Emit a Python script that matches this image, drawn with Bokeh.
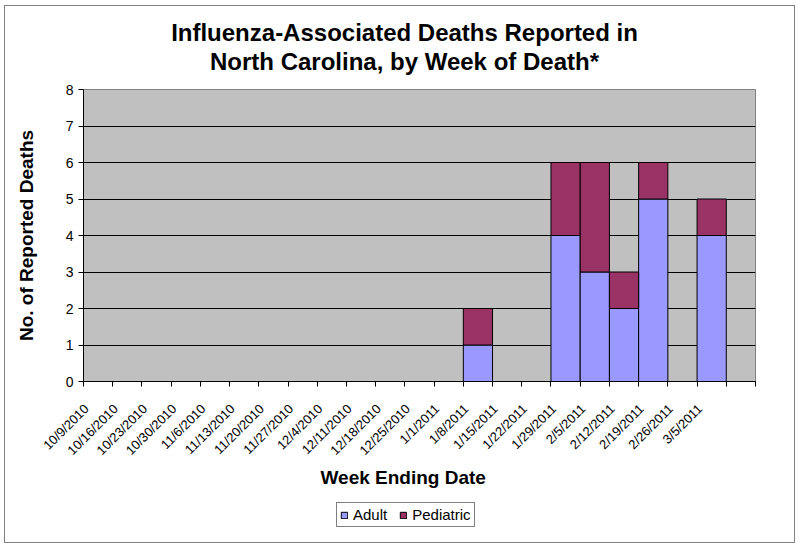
from bokeh.plotting import figure
from bokeh.models import Range1d, FixedTicker, Title, Legend, LegendItem, Label
from bokeh.layouts import column
from bokeh.embed import file_html
from bokeh.resources import INLINE
import math

title_lines = ["Influenza-Associated Deaths Reported in",
               "North Carolina, by Week of Death*"]
weeks = ["10/9/2010", "10/16/2010", "10/23/2010", "10/30/2010", "11/6/2010",
         "11/13/2010", "11/20/2010", "11/27/2010", "12/4/2010", "12/11/2010",
         "12/18/2010", "12/25/2010", "1/1/2011", "1/8/2011", "1/15/2011",
         "1/22/2011", "1/29/2011", "2/5/2011", "2/12/2011", "2/19/2011",
         "2/26/2011", "3/5/2011", ""]
adult = [0, 0, 0, 0, 0, 0, 0, 0, 0, 0, 0, 0, 0, 1, 0, 0, 4, 3, 2, 5, 0, 4, 0]
pediatric = [0, 0, 0, 0, 0, 0, 0, 0, 0, 0, 0, 0, 0, 1, 0, 0, 2, 3, 1, 1, 0, 1, 0]
y_ticks = [0, 1, 2, 3, 4, 5, 6, 7, 8]

FONT = "Liberation Sans"
ADULT_C = "#9999FF"
PED_C = "#993366"
n = len(weeks)
xs = [i + 0.5 for i in range(n)]
tops_adult = adult
bottoms_ped = adult
tops_ped = [a + b for a, b in zip(adult, pediatric)]

# ---- title strip ----
tf = figure(width=789, height=75, output_backend="svg", toolbar_location=None,
            x_range=Range1d(83, 755), y_range=Range1d(81, 6),
            x_axis_location=None, y_axis_location=None, min_border=0)
tf.outline_line_color = None
tf.grid.visible = False
tf.background_fill_color = "white"
tf.border_fill_color = "white"
for txt, yb in zip(title_lines, [32, 61]):
    tf.add_layout(Label(x=404, y=yb, text=txt, text_align="center",
                        text_baseline="alphabetic", text_font=FONT,
                        text_font_size="24px", text_font_style="bold",
                        text_color="black"))

# ---- main chart ----
p = figure(frame_width=672, frame_height=292, output_backend="svg", toolbar_location=None,
           x_range=Range1d(0, n), y_range=Range1d(0, 8),
           min_border_left=78, min_border_right=39, min_border_top=8,
           min_border_bottom=116)

p.background_fill_color = "#C0C0C0"
p.border_fill_color = "white"
p.outline_line_color = "#808080"

p.vbar(x=xs, width=1.0, bottom=0, top=tops_adult, fill_color=ADULT_C,
       line_color="black", line_width=1)
p.vbar(x=xs, width=1.0, bottom=bottoms_ped, top=tops_ped, fill_color=PED_C,
       line_color="black", line_width=1)

p.xgrid.visible = False
p.ygrid.grid_line_color = "black"
p.ygrid.grid_line_width = 1
p.ygrid.ticker = FixedTicker(ticks=y_ticks)

p.yaxis.ticker = FixedTicker(ticks=y_ticks)
p.yaxis.axis_line_color = "black"
p.yaxis.major_tick_line_color = "black"
p.yaxis.major_tick_out = 5
p.yaxis.major_tick_in = 0
p.yaxis.minor_tick_line_color = None
p.yaxis.major_label_text_font = FONT
p.yaxis.major_label_text_font_size = "14px"
p.yaxis.major_label_text_color = "black"
p.yaxis.major_label_standoff = 5
p.yaxis.axis_label = "No. of Reported Deaths"
p.yaxis.axis_label_text_font = FONT
p.yaxis.axis_label_text_font_size = "19px"
p.yaxis.axis_label_text_font_style = "bold"
p.yaxis.axis_label_text_color = "black"
p.yaxis.axis_label_standoff = 26

label_pos = [i + 0.1 for i in range(n - 1)]
p.xaxis.ticker = FixedTicker(ticks=label_pos, minor_ticks=list(range(n + 1)))
p.xaxis.major_label_overrides = {x: w for x, w in zip(label_pos, weeks)}
p.xaxis.major_label_orientation = math.pi / 4
p.xaxis.major_label_text_font = FONT
p.xaxis.major_label_text_font_size = "13px"
p.xaxis.major_label_text_color = "black"
p.xaxis.major_label_standoff = 19
p.xaxis.major_tick_line_color = None
p.xaxis.minor_tick_line_color = "black"
p.xaxis.minor_tick_out = 5
p.xaxis.minor_tick_in = 0
p.xaxis.axis_line_color = "black"

xt = Title(text="Week Ending Date", align="left", offset=237,
           text_font=FONT, text_font_size="19px", text_font_style="bold",
           text_color="black", standoff=-3)
p.add_layout(xt, "below")

# ---- legend strip ----
lf = figure(width=789, height=45, output_backend="svg", toolbar_location=None,
            x_range=Range1d(0, n), y_range=Range1d(0, 8),
            x_axis_location=None, y_axis_location=None,
            min_border=0)
lf.outline_line_color = None
lf.grid.visible = False
lf.background_fill_color = "white"
lf.border_fill_color = "white"
ka = lf.vbar(x=xs, width=1, top=tops_adult, fill_color=ADULT_C, line_color="black")
kp = lf.vbar(x=xs, width=1, top=tops_ped, fill_color=PED_C, line_color="black")
ka.visible = False
kp.visible = False
legend = Legend(items=[LegendItem(label="Adult", renderers=[ka]),
                       LegendItem(label="Pediatric", renderers=[kp])],
                orientation="horizontal", location=(253, 15))
legend.label_text_font = FONT
legend.label_text_font_size = "15px"
legend.label_text_color = "black"
legend.glyph_width = 8
legend.glyph_height = 8
legend.label_standoff = 5
legend.spacing = 12
legend.padding = 3
legend.margin = 0
legend.border_line_color = "black"
legend.border_line_width = 1
legend.label_height = 13
legend.background_fill_color = "white"
lf.add_layout(legend, "center")

layout = column(tf, p, lf, spacing=0, margin=(6, 5, 4, 5),
                styles={"outline": "1px solid #808080"})

open("out.html", "w").write(file_html(layout, INLINE))
